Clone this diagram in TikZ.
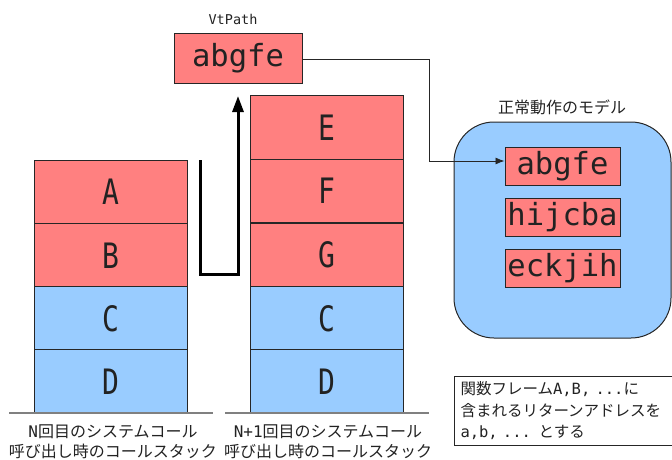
\documentclass[tikz,border=0pt]{standalone}
\usepackage{fontspec}
\setmainfont{DejaVu Sans Mono}
\newfontfamily\jp{Noto Sans CJK JP}
\newfontfamily\narrowmono[FakeStretch=0.8]{DejaVu Sans Mono}
\usetikzlibrary{arrows.meta}
\definecolor{framered}{HTML}{FF8080}
\definecolor{frameblue}{HTML}{99CCFF}
\definecolor{ink}{HTML}{222222}

\begin{document}
\begin{tikzpicture}[x=1pt,y=-1pt,
  frame/.style={draw=black!85, line width=1pt, minimum width=153pt,
    minimum height=63.5pt, inner sep=0pt, text=ink,
    font=\narrowmono\fontsize{35}{35}\selectfont},
  redframe/.style={frame, fill=framered},
  blueframe/.style={frame, fill=frameblue},
  pathbox/.style={draw=black!85, line width=1pt, fill=framered, inner sep=0pt,
    minimum width=115pt, minimum height=38pt, text=ink,
    font=\fontsize{30.5}{30.5}\selectfont},
  floor/.style={draw=black!50, line width=2pt},
  caption/.style={align=center, text=ink, font=\jp\fontsize{16}{20}\selectfont},
  thin/.style={draw=black!85, line width=0.8pt}
]
\useasboundingbox (0,0) rectangle (672,459);

% stack at the N-th system call
\node[redframe]  (la) at (110.5,192)   {A};
\node[redframe]  (lb) at (110.5,255.5) {B};
\node[blueframe] (lc) at (110.5,318.5) {C};
\node[blueframe] (ld) at (110.5,381.5) {D};
\draw[floor] (9,413) -- (213,413);
\node[caption] (lcap) at (113,442)
  {\fontspec{DejaVu Sans Mono}N\jp 回目のシステムコール\\呼び出し時のコールスタック};

% stack at the (N+1)-th system call
\node[redframe]  (re) at (327,127.5) {E};
\node[redframe]  (rf) at (327,191)   {F};
\node[redframe]  (rg) at (327,255)   {G};
\node[blueframe] (rc) at (327,318.5) {C};
\node[blueframe] (rd) at (327,381.5) {D};
\draw[floor] (225,413) -- (429,413);
\node[caption] (rcap) at (328,442)
  {\fontspec{DejaVu Sans Mono}N+1\jp 回目のシステムコール\\呼び出し時のコールスタック};

% path recorded for the call
\node[pathbox, minimum width=128pt, minimum height=50pt] (vt) at (238,58) {abgfe};
\node[text=ink, font=\fontsize{13.5}{14}\selectfont] (vtlabel) at (233,19) {VtPath};

% thick arrow from one stack to the next
\coordinate (ustart) at (200,160);
\coordinate (ubl) at (200,274);
\coordinate (ubr) at (238,274);
\coordinate (utip) at (238,96);
\draw[line width=3pt, -{Triangle[length=16pt,width=11pt]}]
  (ustart) -- (ubl) -- (ubr) -- (utip);

% model of normal behaviour
\node[draw=black!85, line width=1pt, fill=frameblue, rounded corners=40pt,
  minimum width=217pt, minimum height=216pt] (model) at (562.5,230) {};
\node[text=ink, font=\jp\fontsize{16}{16}\selectfont] (modellabel) at (562,107) {正常動作のモデル};
\node[pathbox] (m1) at (562.5,166.5) {abgfe};
\node[pathbox] (m2) at (562.5,217.5) {hijcba};
\node[pathbox] (m3) at (562.5,268)   {eckjih};

% lookup of the recorded path in the model
\coordinate (bend1) at (429,59);
\coordinate (bend2) at (429,161);
\draw[thin, -{Latex[length=9pt,width=7pt]}]
  (vt.east |- bend1) -- (bend1) -- (bend2) -- (bend2 -| m1.west);

% note
\node[draw=black!85, line width=1pt, anchor=north west, minimum width=240pt,
  minimum height=69pt, inner xsep=6pt, inner ysep=0pt, text width=228pt,
  align=left, text=ink, font=\fontsize{15.5}{21.5}\selectfont] (note) at (454,376)
  {{\jp 関数フレーム}A,B, ...{\jp に}\\
   {\jp 含まれるリターンアドレスを}\\
   a,b, ... {\jp とする}};
\end{tikzpicture}
\end{document}
